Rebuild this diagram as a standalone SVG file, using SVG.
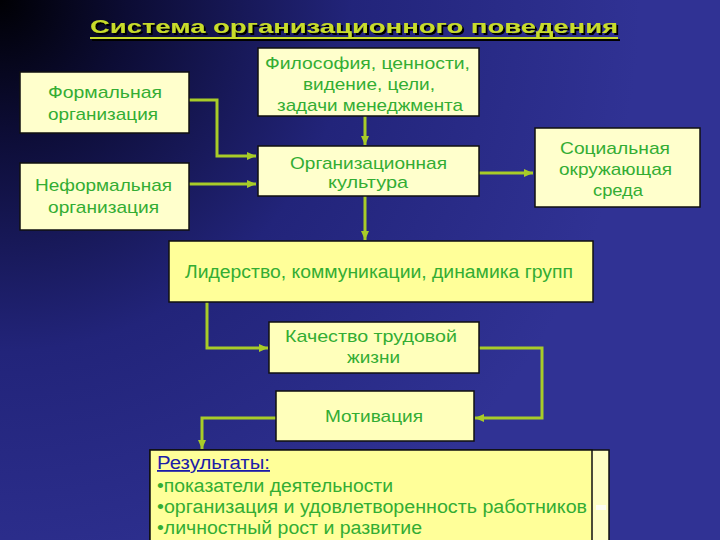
<svg xmlns="http://www.w3.org/2000/svg" width="720" height="540" viewBox="0 0 720 540">
  <defs>
    <radialGradient id="bg" cx="0" cy="0" r="640" gradientUnits="userSpaceOnUse">
      <stop offset="0" stop-color="#000004"/>
      <stop offset="0.2" stop-color="#0c0c34"/>
      <stop offset="0.55" stop-color="#22247a"/>
      <stop offset="1" stop-color="#303294"/>
    </radialGradient>
    <filter id="shadow" x="-5%" y="-30%" width="110%" height="160%">
      <feDropShadow dx="2" dy="2" stdDeviation="0.4" flood-color="#000" flood-opacity="1"/>
    </filter>
    <marker id="arr" markerUnits="userSpaceOnUse" markerWidth="9" markerHeight="8" refX="9" refY="4" orient="auto">
      <path d="M0,0 L9,4 L0,8 z" fill="#a8cc28"/>
    </marker>
    <style>
      .box { stroke: #111; stroke-width: 1.5; }
      .lt { fill: #ffffcc; }
      .md { fill: #ffffbb; }
      .dk { fill: #ffff99; }
      .t { font-family: "Liberation Sans", Arial, sans-serif; font-size: 17px; fill: #33ad33; }
      .r { font-family: "Liberation Sans", Arial, sans-serif; font-size: 18px; fill: #33ad33; }
      .con { fill: none; stroke: #a8cc28; stroke-width: 3; marker-end: url(#arr); }
    </style>
  </defs>
  <rect x="0" y="0" width="720" height="540" fill="url(#bg)"/>

  <g id="title" filter="url(#shadow)">
    <line x1="90" y1="38" x2="618" y2="38" stroke="#c8dc2a" stroke-width="2"/>
    <text x="90" y="33" textLength="528" lengthAdjust="spacingAndGlyphs" font-family="Liberation Sans, Arial, sans-serif" font-size="19" font-weight="bold" fill="#c8dc2a">Система организационного поведения</text>
  </g>

  <g id="connectors">
    <path class="con" d="M189,100 H217 V156 H256"/>
    <path class="con" d="M189,184 H256"/>
    <path class="con" d="M365,116 V145"/>
    <path class="con" d="M479,173 H533"/>
    <path class="con" d="M365,196 V240"/>
    <path class="con" d="M207,302 V348 H268"/>
    <path class="con" d="M479,348 H542 V418 H475"/>
    <path class="con" d="M276,418 H202 V449"/>
  </g>

  <g id="formal">
    <rect class="box lt" x="20" y="72" width="169" height="61"/>
    <text class="t" x="48" y="98" textLength="114" lengthAdjust="spacingAndGlyphs">Формальная</text>
    <text class="t" x="48" y="120" textLength="110" lengthAdjust="spacingAndGlyphs">организация</text>
  </g>

  <g id="informal">
    <rect class="box lt" x="20" y="163" width="169" height="67"/>
    <text class="t" x="35" y="191" textLength="137" lengthAdjust="spacingAndGlyphs">Неформальная</text>
    <text class="t" x="48" y="213" textLength="111" lengthAdjust="spacingAndGlyphs">организация</text>
  </g>

  <g id="philosophy">
    <rect class="box lt" x="258" y="48" width="221" height="68"/>
    <text class="t" x="265" y="69" textLength="205" lengthAdjust="spacingAndGlyphs">Философия, ценности,</text>
    <text class="t" x="303" y="90" textLength="132" lengthAdjust="spacingAndGlyphs">видение, цели,</text>
    <text class="t" x="277" y="111" textLength="186" lengthAdjust="spacingAndGlyphs">задачи менеджмента</text>
  </g>

  <g id="culture">
    <rect class="box lt" x="258" y="146" width="221" height="50"/>
    <text class="t" x="290" y="169" textLength="157" lengthAdjust="spacingAndGlyphs">Организационная</text>
    <text class="t" x="328" y="188" textLength="80" lengthAdjust="spacingAndGlyphs">культура</text>
  </g>

  <g id="social">
    <rect class="box lt" x="535" y="128" width="165" height="79"/>
    <text class="t" x="560" y="154" textLength="110" lengthAdjust="spacingAndGlyphs">Социальная</text>
    <text class="t" x="559" y="175" textLength="113" lengthAdjust="spacingAndGlyphs">окружающая</text>
    <text class="t" x="593" y="196" textLength="50" lengthAdjust="spacingAndGlyphs">среда</text>
  </g>

  <g id="leadership">
    <rect class="box dk" x="169" y="241" width="424" height="61"/>
    <text class="r" x="185" y="278" textLength="388" lengthAdjust="spacingAndGlyphs">Лидерство, коммуникации, динамика групп</text>
  </g>

  <g id="quality">
    <rect class="box md" x="269" y="322" width="210" height="51"/>
    <text class="t" x="285" y="342" textLength="172" lengthAdjust="spacingAndGlyphs">Качество трудовой</text>
    <text class="t" x="347" y="363" textLength="53" lengthAdjust="spacingAndGlyphs">жизни</text>
  </g>

  <g id="motivation">
    <rect class="box md" x="276" y="391" width="198" height="50"/>
    <text class="t" x="325" y="422" textLength="98" lengthAdjust="spacingAndGlyphs">Мотивация</text>
  </g>

  <g id="results">
    <rect class="box" x="150" y="450" width="459" height="96" fill="#ffffc4"/>
    <rect class="box dk" x="150" y="450" width="442" height="96"/>
    <rect x="596" y="505" width="10" height="5" fill="#ffffff" opacity="0.8"/>
    <text x="157" y="469" textLength="113" lengthAdjust="spacingAndGlyphs" font-family="Liberation Sans, Arial, sans-serif" font-size="18" fill="#1c1ca8" text-decoration="underline">Результаты:</text>
    <text class="r" x="157" y="492" textLength="236" lengthAdjust="spacingAndGlyphs">•показатели деятельности</text>
    <text class="r" x="157" y="513" textLength="430" lengthAdjust="spacingAndGlyphs">•организация и удовлетворенность работников</text>
    <text class="r" x="157" y="534" textLength="265" lengthAdjust="spacingAndGlyphs">•личностный рост и развитие</text>
  </g>
</svg>
